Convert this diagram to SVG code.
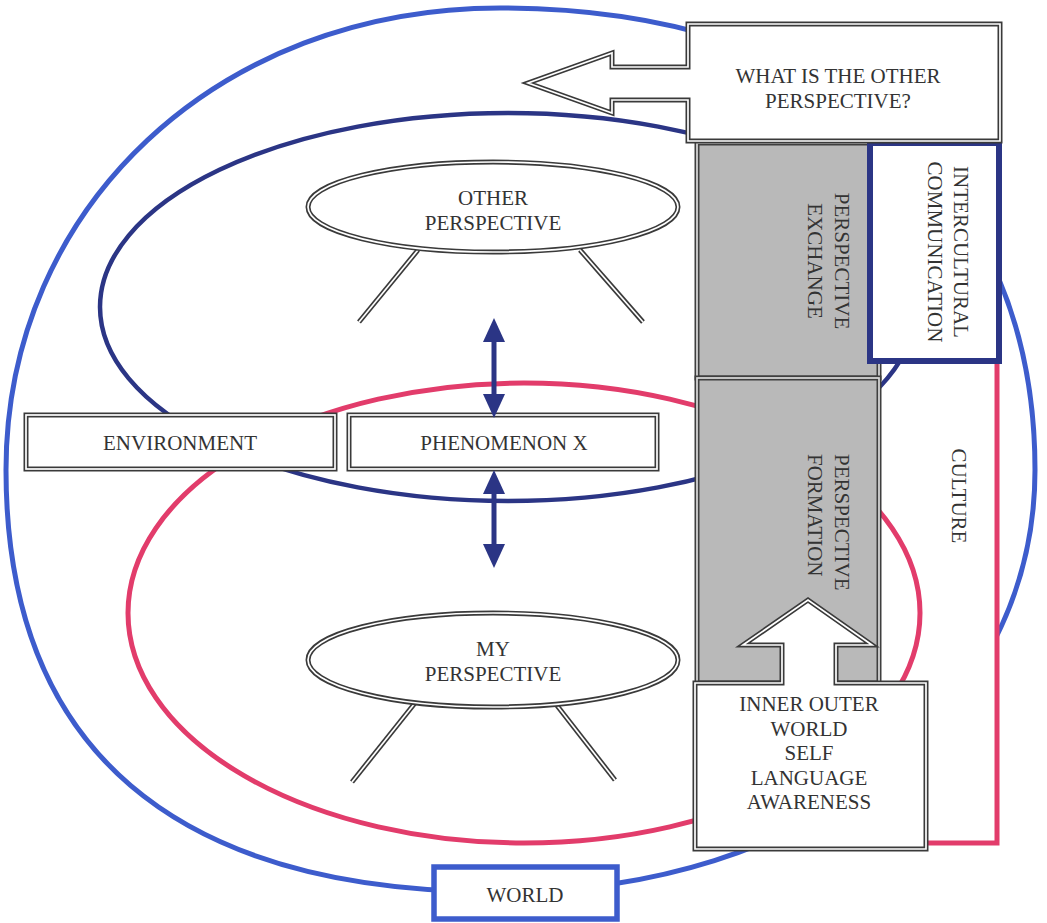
<svg xmlns="http://www.w3.org/2000/svg" width="1047" height="923" viewBox="0 0 1047 923">
<defs>
<style>
text{font-family:"Liberation Serif","Times New Roman",serif;font-size:21px;fill:#333;}
.c{text-anchor:middle}
.o{fill:#fff;stroke:#3a3a3a;stroke-width:5}
.i{fill:none;stroke:#fff;stroke-width:1.7}
.g{fill:#b9b9b9;stroke:#3f3f3f;stroke-width:5}
.gi{fill:none;stroke:#dcdcdc;stroke-width:1.7}
.leg{stroke:#3a3a3a;stroke-width:5}
.legi{stroke:#fff;stroke-width:1.7}
.blue{fill:none;stroke:#3d5ccc;stroke-width:5}
.navy{fill:none;stroke:#2b3585;stroke-width:4.5}
.pink{fill:none;stroke:#e23c6b;stroke-width:5}
.arr{stroke:#2b3585;stroke-width:5;fill:none;marker-start:url(#ah);marker-end:url(#ah)}
</style>
<marker id="ah" viewBox="0 0 24 22" refX="12" refY="11" markerUnits="userSpaceOnUse" markerWidth="24" markerHeight="22" orient="auto-start-reverse"><path d="M0,0 L24,11 L0,22 z" fill="#2b3585"/></marker>
</defs>
<rect width="1047" height="923" fill="#fff"/>

<g id="world-loop">
<path class="blue" d="M6,470 C6,207 218,8 500,8 C832,8 1035,184 1035,470 C1035,715 810,892 500,892 C174,892 6,749 6,470 Z"/>
</g>

<g id="culture">
<rect x="878" y="360" width="119" height="483" fill="#fff" stroke="#e23c6b" stroke-width="5"/>
<text class="c" transform="translate(952,496) rotate(90)">CULTURE</text>
</g>

<g id="environment-loop">
<ellipse class="navy" cx="508" cy="307" rx="408" ry="194"/>
</g>
<g id="culture-loop">
<ellipse class="pink" cx="524" cy="613" rx="396" ry="230"/>
</g>

<g id="other-perspective">
<line class="leg" x1="418" y1="250" x2="359" y2="322"/><line class="legi" x1="418" y1="250" x2="359" y2="322"/>
<line class="leg" x1="580" y1="250" x2="643" y2="322"/><line class="legi" x1="580" y1="250" x2="643" y2="322"/>
<ellipse class="o" cx="493" cy="207" rx="185" ry="45"/><ellipse class="i" cx="493" cy="207" rx="185" ry="45"/>
<text class="c" x="493" y="205">OTHER</text>
<text class="c" x="493" y="230">PERSPECTIVE</text>
</g>

<g id="my-perspective">
<line class="leg" x1="415" y1="703" x2="352" y2="782"/><line class="legi" x1="415" y1="703" x2="352" y2="782"/>
<line class="leg" x1="555" y1="703" x2="615" y2="780"/><line class="legi" x1="555" y1="703" x2="615" y2="780"/>
<ellipse class="o" cx="493" cy="660" rx="185" ry="47"/><ellipse class="i" cx="493" cy="660" rx="185" ry="47"/>
<text class="c" x="493" y="656">MY</text>
<text class="c" x="493" y="681">PERSPECTIVE</text>
</g>

<g id="environment">
<rect class="o" x="26" y="415" width="309" height="54"/><rect class="i" x="26" y="415" width="309" height="54"/>
<text class="c" x="180" y="450">ENVIRONMENT</text>
</g>

<g id="phenomenon-x">
<rect class="o" x="349" y="415" width="308" height="54"/><rect class="i" x="349" y="415" width="308" height="54"/>
<text class="c" x="504" y="450">PHENOMENON X</text>
</g>

<g id="connectors">
<line class="arr" x1="494" y1="330" x2="494" y2="406"/>
<line class="arr" x1="494" y1="482" x2="494" y2="556"/>
</g>

<g id="perspective-exchange">
<rect class="g" x="697" y="143" width="182" height="235"/><rect class="gi" x="697" y="143" width="182" height="235"/>
<text class="c" transform="translate(835,261) rotate(90)"><tspan x="0" y="0">PERSPECTIVE</tspan><tspan x="0" y="27">EXCHANGE</tspan></text>
</g>

<g id="perspective-formation">
<rect class="g" x="697" y="378" width="182" height="305"/><rect class="gi" x="697" y="378" width="182" height="305"/>
<text transform="translate(835,454) rotate(90)"><tspan x="0" y="0">PERSPECTIVE</tspan><tspan x="0" y="27">FORMATION</tspan></text>
</g>

<g id="intercultural-communication">
<rect x="870" y="143" width="129" height="218" fill="#fff" stroke="#2b3585" stroke-width="6"/>
<text class="c" transform="translate(954,252) rotate(90)"><tspan x="0" y="0">INTERCULTURAL</tspan><tspan x="0" y="26">COMMUNICATION</tspan></text>
</g>

<g id="other-perspective-question">
<path class="o" d="M688,24 H1000 V141 H688 V100 H612 V113 L528,83 L612,53 V67 H688 Z"/>
<path class="i" d="M688,24 H1000 V141 H688 V100 H612 V113 L528,83 L612,53 V67 H688 Z"/>
<text class="c" x="838" y="83">WHAT IS THE OTHER</text>
<text class="c" x="838" y="108">PERSPECTIVE?</text>
</g>

<g id="inner-outer-world">
<path class="o" d="M695,683 H782 V645 H743 L808,600 L872,645 H836 V683 H926 V849 H695 Z"/>
<path class="i" d="M695,683 H782 V645 H743 L808,600 L872,645 H836 V683 H926 V849 H695 Z"/>
<text class="c" x="809" y="711">INNER OUTER</text>
<text class="c" x="809" y="736">WORLD</text>
<text class="c" x="809" y="760">SELF</text>
<text class="c" x="809" y="785">LANGUAGE</text>
<text class="c" x="809" y="809">AWARENESS</text>
</g>

<g id="world">
<rect x="434" y="867" width="183" height="52" fill="#fff" stroke="#3d5ccc" stroke-width="5.5"/>
<text class="c" x="525" y="902">WORLD</text>
</g>
</svg>
